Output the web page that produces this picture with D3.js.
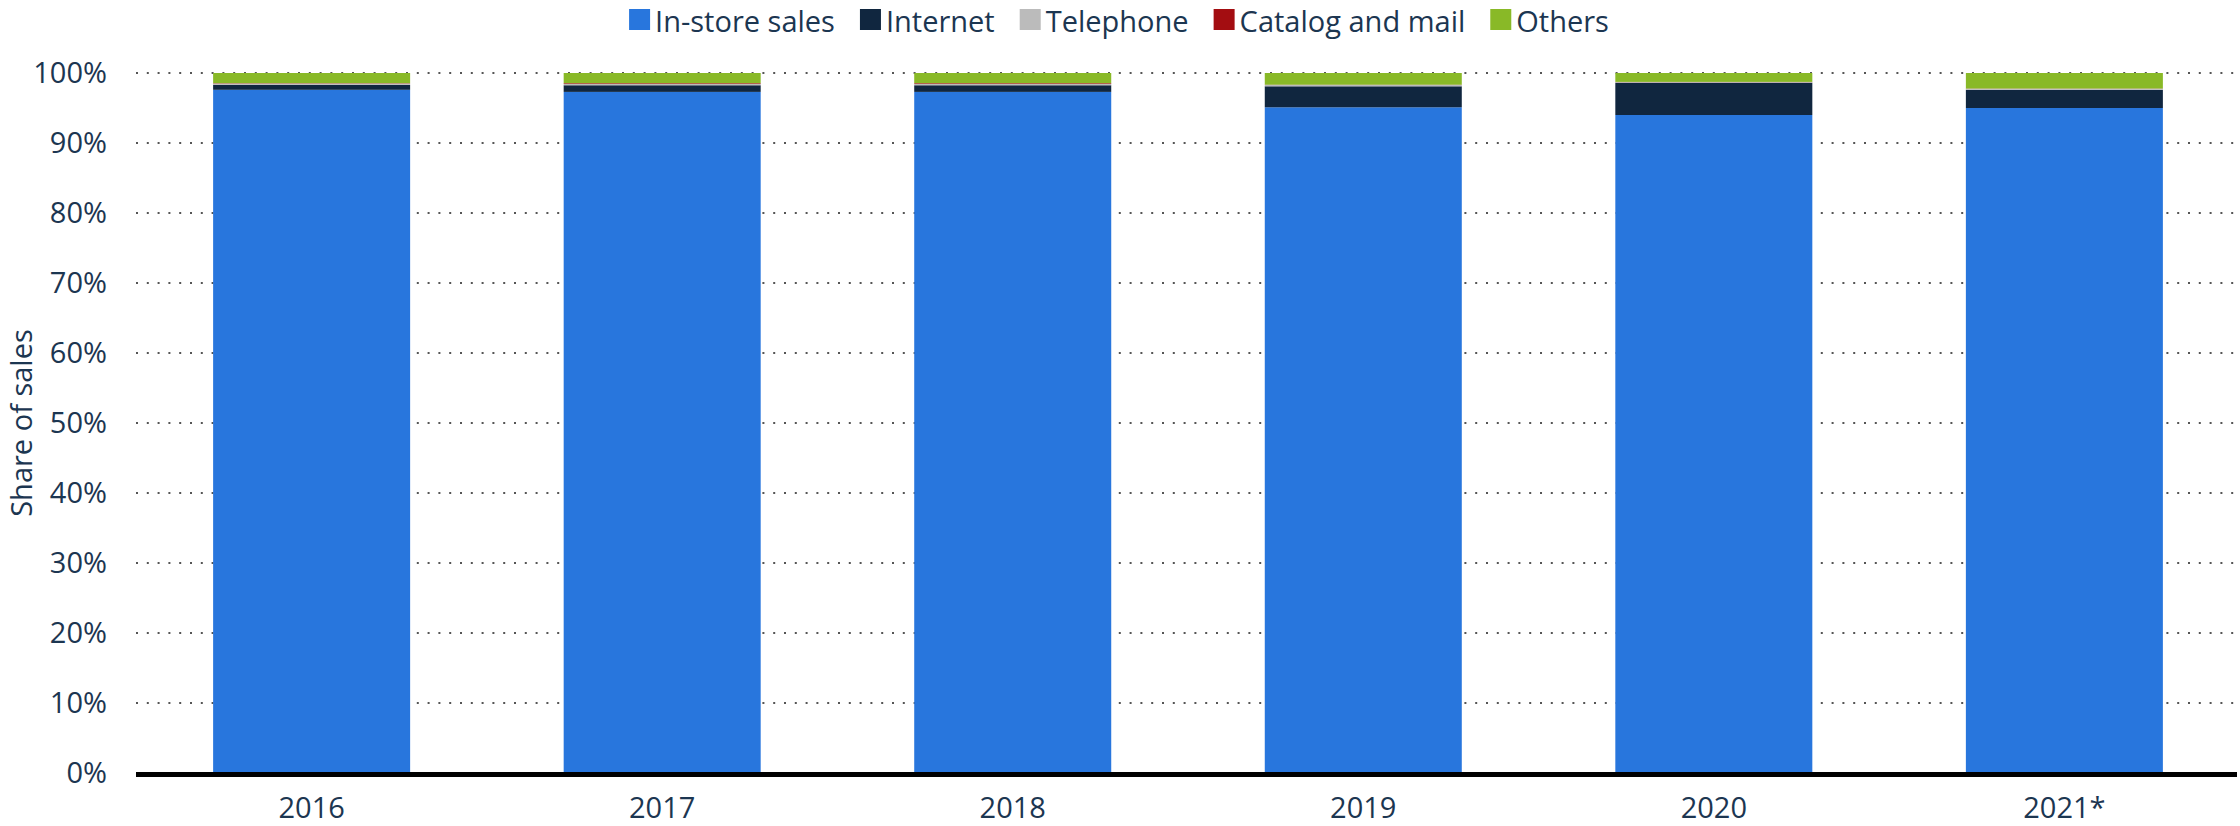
<!DOCTYPE html>
<html><head><meta charset="utf-8">
<script src="https://cdn.jsdelivr.net/npm/d3@7"></script>
<style>
html,body{margin:0;padding:0;background:#fff;}
svg{display:block;}
text{font-family:"Open Sans",sans-serif;}
</style></head>
<body><svg id="chart" width="2240" height="826"></svg>
<script>
const years = ["2016","2017","2018","2019","2020","2021*"];
const seriesNames = ["In-store sales","Internet","Telephone","Catalog and mail","Others"];
const inStore = [97.6, 97.3, 97.3, 95.1, 94.0, 95.0];
const internet = [0.7, 0.95, 0.95, 3.0, 4.6, 2.6];
const telephone = [0.2, 0.2, 0.2, 0.2, 0.1, 0.15];
const catalog = [0.05, 0.1, 0.1, 0.03, 0.03, 0.03];
const others = [1.45, 1.45, 1.45, 1.67, 1.27, 2.22];
const yTicks = [0,10,20,30,40,50,60,70,80,90,100];
const colors = ["#2876dd","#10263f","#bbbbbb","#a30d11","#89b927"];
const textColor = "#1c3651";
const fs = 29;

const rows = years.map((y,i)=>({year:y, "In-store sales":inStore[i], "Internet":internet[i], "Telephone":telephone[i], "Catalog and mail":catalog[i], "Others":others[i]}));
const stack = d3.stack().keys(seriesNames)(rows);

const svg = d3.select("#chart");
const margin = {left:136, right:2240, top:73, bottom:773};
const x = d3.scaleBand().domain(years).range([margin.left, margin.right]).paddingInner(0.438).paddingOuter(0.22);
const y = d3.scaleLinear().domain([0,100]).range([margin.bottom, margin.top]);

// grid
svg.append("g").selectAll("line").data(yTicks.filter(d=>d>0)).join("line")
  .attr("x1", margin.left).attr("x2", 2237)
  .attr("y1", d=>y(d)).attr("y2", d=>y(d))
  .attr("stroke","#555").attr("stroke-width",2).attr("stroke-dasharray","2,8.8");

// y axis labels
const yAxis = d3.axisLeft(y).tickValues(yTicks).tickFormat(d=>d+"%").tickSize(0).tickPadding(0);
const gy = svg.append("g").attr("transform",`translate(107,0)`).call(yAxis);
gy.select(".domain").remove();
gy.selectAll("text").attr("font-size",fs).attr("fill",textColor).attr("font-family","'Open Sans',sans-serif");

// bars
svg.append("g").selectAll("g").data(stack).join("g")
  .attr("fill",(d,i)=>colors[i])
  .selectAll("rect").data(d=>d).join("rect")
  .attr("x", d=>x(d.data.year))
  .attr("width", x.bandwidth())
  .attr("y", d=>y(d[1]))
  .attr("height", d=>Math.max(0, y(d[0])-y(d[1])));

// x axis
const xAxis = d3.axisBottom(x).tickSize(0).tickPadding(0);
const gx = svg.append("g").attr("transform",`translate(0,${margin.bottom})`).call(xAxis);
gx.select(".domain").remove();
gx.selectAll("text").attr("font-size",fs).attr("fill",textColor).attr("dy",null).attr("y",45).attr("font-family","'Open Sans',sans-serif");
svg.append("line").attr("x1",margin.left).attr("x2",2237)
  .attr("y1",margin.bottom+1.5).attr("y2",margin.bottom+1.5)
  .attr("stroke","#000").attr("stroke-width",5);

// y axis title
svg.append("text").attr("transform",`translate(20,${(margin.top+margin.bottom)/2}) rotate(-90)`)
  .attr("text-anchor","middle").attr("dominant-baseline","central")
  .attr("font-size",fs).attr("fill",textColor).text("Share of sales");

// legend
const lg = svg.append("g");
let xpos = 0;
seriesNames.forEach((n,i)=>{
  const g = lg.append("g").attr("transform",`translate(${xpos},0)`);
  g.append("rect").attr("x",0).attr("y",9).attr("width",21).attr("height",21).attr("fill",colors[i]);
  const t = g.append("text").attr("x",26).attr("y",20).attr("dominant-baseline","central")
    .attr("font-size",fs).attr("fill",textColor).text(n);
  const w = t.node().getComputedTextLength();
  xpos += 26 + w + 25;
});
const total = xpos - 25;
lg.attr("transform",`translate(${1119 - total/2},0)`);
</script></body></html>
